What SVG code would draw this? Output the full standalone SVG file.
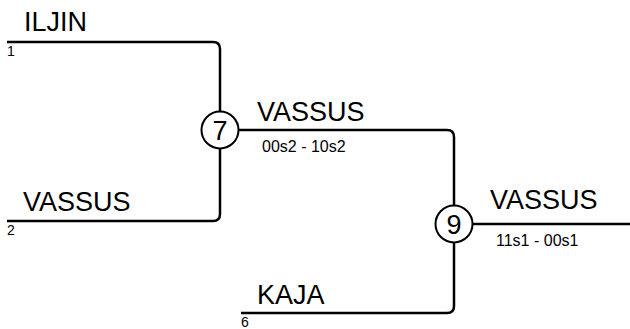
<svg xmlns="http://www.w3.org/2000/svg" width="630" height="329" viewBox="0 0 630 329">
<style>
.ln{fill:none;stroke:#000;stroke-width:2.5}
.big{font-family:"Liberation Sans",Arial,sans-serif;font-size:27px;fill:#000}
.sub{font-family:"Liberation Sans",Arial,sans-serif;font-size:16px;fill:#000}
.seed{font-family:"Liberation Sans",Arial,sans-serif;font-size:14px;fill:#000}
.node{fill:#fff;stroke:#000;stroke-width:2}
.num{font-family:"Liberation Sans",Arial,sans-serif;font-size:27px;fill:#000;text-anchor:middle}
</style>
<g id="connectors">
<path class="ln" d="M7,42 H213 Q220,42 220,49 V112"/>
<path class="ln" d="M7,221 H213 Q220,221 220,214 V148"/>
<path class="ln" d="M238,130 H447 Q454,130 454,137 V206"/>
<path class="ln" d="M241,313 H447 Q454,313 454,306 V242"/>
<path class="ln" d="M472,224 H630"/>
</g>
<g id="team1">
<text class="big" x="24" y="31">ILJIN</text>
<text class="seed" x="7" y="56">1</text>
</g>
<g id="team2">
<text class="big" x="23" y="211">VASSUS</text>
<text class="seed" x="7" y="235">2</text>
</g>
<g id="team6">
<text class="big" x="257" y="304">KAJA</text>
<text class="seed" x="241" y="327">6</text>
</g>
<g id="match7">
<circle class="node" cx="220" cy="130" r="18.5"/>
<text class="num" x="220" y="140">7</text>
<text class="big" x="257" y="121">VASSUS</text>
<text class="sub" x="262" y="152">00s2 - 10s2</text>
</g>
<g id="match9">
<circle class="node" cx="454" cy="224" r="18.5"/>
<text class="num" x="454" y="234">9</text>
<text class="big" x="490" y="209">VASSUS</text>
<text class="sub" x="496" y="246">11s1 - 00s1</text>
</g>
</svg>
